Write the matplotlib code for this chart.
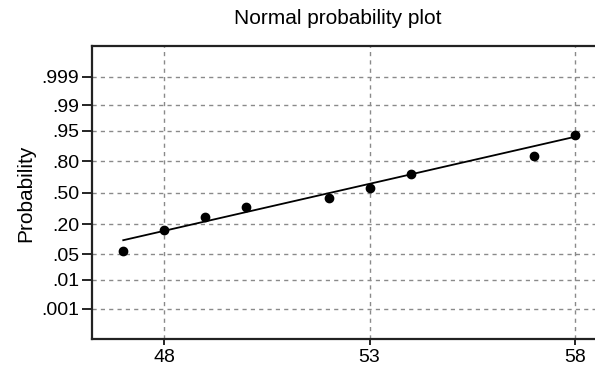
from statistics import NormalDist
import numpy as np
import matplotlib.pyplot as plt

plt.rcParams['font.family'] = ['Liberation Sans', 'DejaVu Sans']

# observed values and their plotting probabilities
x_vals = [47, 48, 49, 50, 52, 53, 54, 57, 58]
p_vals = [0.061, 0.160, 0.256, 0.352, 0.447, 0.547, 0.688, 0.838, 0.938]

# fitted normal line
fit_mean = 52.06
fit_sd = 3.99

prob_ticks = [0.001, 0.01, 0.05, 0.20, 0.50, 0.80, 0.95, 0.99, 0.999]
prob_labels = ['.001', '.01', '.05', '.20', '.50', '.80', '.95', '.99', '.999']
x_ticks = [48, 53, 58]

nd = NormalDist()
z_vals = np.array([nd.inv_cdf(p) for p in p_vals])
z_ticks = [nd.inv_cdf(p) for p in prob_ticks]

fig = plt.figure(figsize=(5.95, 3.68), dpi=100)
ax = fig.add_axes([0.154, 0.078, 0.846, 0.796])

# grid
for z in z_ticks:
    ax.axhline(z, color='#8a8a8a', lw=1, ls=(0, (3, 3)), zorder=0)
for xt in x_ticks:
    ax.axvline(xt, color='#8a8a8a', lw=1, ls=(0, (3, 3)), zorder=0)

xs = np.array([min(x_vals), max(x_vals)])
ax.plot(xs, (xs - fit_mean) / fit_sd, color='black', lw=1.3, zorder=2)
ax.scatter(x_vals, z_vals, s=36, color='black', zorder=3)

ax.set_xlim(46.23, 58.49)
ax.set_ylim(-3.91, 3.90)
ax.set_xticks(x_ticks)
ax.set_yticks(z_ticks)
ax.set_yticklabels(prob_labels)
ax.tick_params(axis='y', length=7, width=1.2, labelsize=14, pad=2)
ax.tick_params(axis='x', length=4, width=1.2, labelsize=14, pad=3)

for s in ['left', 'bottom', 'top']:
    ax.spines[s].set_linewidth(1.6)
    ax.spines[s].set_color('#222222')
ax.spines['right'].set_visible(False)

ax.set_ylabel('Probability', fontsize=15, labelpad=4)
fig.text(0.568, 0.95, 'Normal probability plot', ha='center', va='center', fontsize=15)

plt.savefig('out.png', dpi=100)
